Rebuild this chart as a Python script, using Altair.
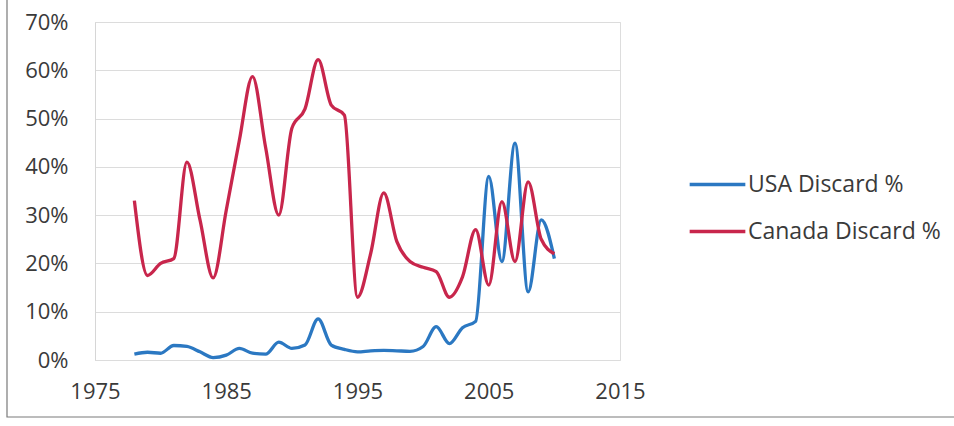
import altair as alt
import pandas as pd

# Annual discard rates, 1978-2010 (percent)
years = list(range(1978, 2011))
usa_discard = [1.2, 1.6, 1.4, 3.0, 2.8, 1.7, 0.5, 1.0, 2.4, 1.4, 1.2, 3.7, 2.4, 3.1,
               8.5, 3.1, 2.2, 1.7, 1.9, 2.0, 1.9, 1.8, 2.8, 6.9, 3.4, 6.7, 8.0, 38.0,
               20.4, 44.9, 14.1, 29.0, 21.0]
canada_discard = [33.0, 17.5, 20.0, 21.0, 41.0, 29.0, 17.0, 31.0, 45.5, 58.7, 44.0, 30.0,
                  48.0, 52.0, 62.2, 52.8, 50.7, 13.0, 22.0, 34.6, 24.5, 20.4, 19.2, 18.3,
                  13.0, 17.2, 27.0, 15.5, 32.8, 20.4, 36.9, 25.0, 22.0]
series_names = ["USA Discard %", "Canada Discard %"]
series_colors = ["#2b78c2", "#c8264c"]

df = pd.concat([
    pd.DataFrame({"Year": years, "Value": [v / 100 for v in usa_discard], "Series": series_names[0]}),
    pd.DataFrame({"Year": years, "Value": [v / 100 for v in canada_discard], "Series": series_names[1]}),
])

font = "Open Sans"
text_color = "#3a3a3a"

lines = alt.Chart(df).mark_line(
    interpolate="monotone", strokeWidth=3.3
).encode(
    x=alt.X("Year:Q",
            scale=alt.Scale(domain=[1975, 2015], nice=False, zero=False),
            axis=alt.Axis(values=[1975, 1985, 1995, 2005, 2015], format="d", title=None,
                          grid=False, domain=False, ticks=False, labelPadding=21,
                          labelFlush=False, labelBound=False,
                          labelFontSize=22, labelColor=text_color, labelFont=font)),
    y=alt.Y("Value:Q",
            scale=alt.Scale(domain=[0, 0.7], nice=False),
            axis=alt.Axis(values=[0, 0.1, 0.2, 0.3, 0.4, 0.5, 0.6, 0.7], format=".0%", title=None,
                          grid=True, gridColor="#dcdcdc", gridWidth=1.2,
                          domain=True, domainColor="#d6d6d6", ticks=False, labelPadding=27,
                          labelFlush=False,
                          labelFontSize=22, labelColor=text_color, labelFont=font)),
    color=alt.Color("Series:N",
                    scale=alt.Scale(domain=series_names, range=series_colors),
                    sort=series_names,
                    legend=alt.Legend(title=None, orient="none", legendX=593, legendY=133,
                                      symbolType="stroke", symbolSize=3100, symbolStrokeWidth=3.3,
                                      labelFontSize=23, labelColor=text_color, labelFont=font,
                                      labelLimit=400, rowPadding=5, labelOffset=1)),
    order=alt.Order("Year:Q"),
)

# Thin outer frame around the whole figure
frame = alt.Chart(pd.DataFrame({"k": [0]})).mark_rect(
    fill=None, stroke="#7a7a7a", strokeWidth=1.2
).encode(
    x=alt.value(-88), x2=alt.value(870), y=alt.value(-40), y2=alt.value(395)
)

chart = alt.layer(frame, lines).properties(
    width=525,
    height=338,
    autosize=alt.AutoSizeParams(type="none"),
    padding={"left": 95, "top": 22, "right": 334, "bottom": 66},
).configure_view(
    stroke=None
).configure(
    background="white"
)

chart.save("out.html", embed_options={"renderer": "svg", "actions": False})
